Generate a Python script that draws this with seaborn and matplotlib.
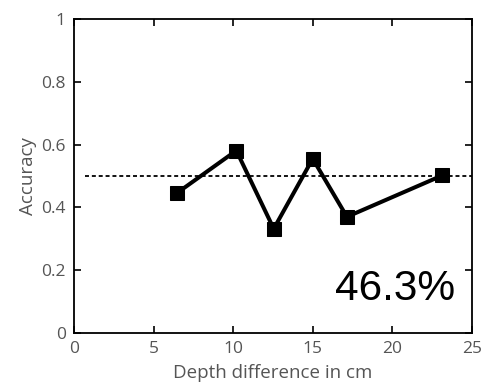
import numpy as np
import pandas as pd
import matplotlib
matplotlib.use("Agg")
import matplotlib.pyplot as plt
import seaborn as sns

# values
depth_cm = [6.45, 10.2, 12.55, 15.0, 17.15, 23.15]
accuracy = [0.445, 0.581, 0.332, 0.555, 0.370, 0.502]
chance_level = 0.5
overall_label = "46.3%"

x_ticks = [0, 5, 10, 15, 20, 25]
y_ticks = [0, 0.2, 0.4, 0.6, 0.8, 1]
y_tick_labels = ["0", "0.2", "0.4", "0.6", "0.8", "1"]

df = pd.DataFrame({"depth": depth_cm, "acc": accuracy})

sns.set_style("ticks")
plt.rcParams['font.family'] = ['Open Sans', 'DejaVu Sans']

fig = plt.figure(figsize=(4.82, 3.92), dpi=100)
ax = fig.add_axes([0.1535, 0.1505, 0.8255, 0.801])

ax.plot([0.7, 25], [chance_level, chance_level], color="black", ls=(0, (2.2, 1.6)),
        lw=1.3, zorder=1)
sns.lineplot(data=df, x="depth", y="acc", ax=ax, color="black", lw=2.9,
             marker="s", markersize=10.5, markeredgecolor="black", zorder=3)

ax.set_xlim(0, 25)
ax.set_ylim(0, 1)
ax.set_xticks(x_ticks)
ax.set_yticks(y_ticks)
ax.set_yticklabels(y_tick_labels)
ax.tick_params(direction="in", top=True, right=True, length=5, width=1.2,
               labelsize=12.5, labelcolor="#555555", color="black", pad=6)
for s in ax.spines.values():
    s.set_linewidth(1.3)
    s.set_color("black")

ax.set_xlabel("Depth difference in cm", fontsize=13.5, color="#555555", labelpad=5)
ax.set_ylabel("Accuracy", fontsize=13.5, color="#555555", labelpad=3)

ax.text(0.957, 0.14, overall_label, transform=ax.transAxes, ha="right",
        va="center", fontsize=30.5, color="black",
        family=["Liberation Sans", "DejaVu Sans"])

fig.savefig("out.png", dpi=100)
